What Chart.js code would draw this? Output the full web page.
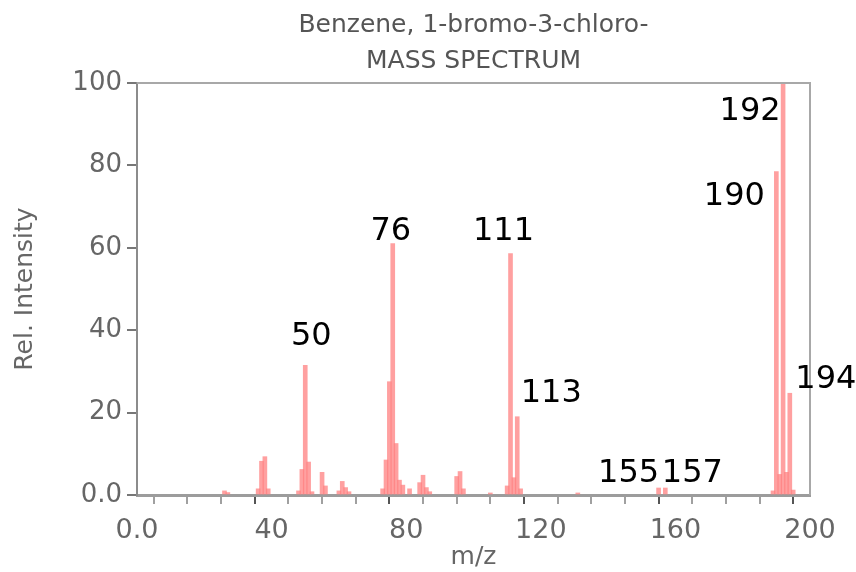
<!DOCTYPE html>
<html>
<head>
<meta charset="utf-8">
<title>Benzene, 1-bromo-3-chloro- mass spectrum</title>
<script src="https://cdn.jsdelivr.net/npm/chart.js@4.4.1/dist/chart.umd.min.js"></script>
<style>
  html, body { margin: 0; padding: 0; background: #fff; }
  #wrap { width: 856px; height: 572px; }
</style>
</head>
<body>
<div id="wrap"><canvas id="spectrum"></canvas></div>
<script>
// m/z values and relative intensities of the EI spectrum
const mz = [26, 27, 36, 37, 38, 39, 48, 49, 50, 51, 52, 55, 56, 60, 61, 62, 63,
    73, 74, 75, 76, 77, 78, 79, 81, 84, 85, 86, 87, 95, 96, 97, 105,
    110, 111, 112, 113, 114, 131, 155, 157, 189, 190, 191, 192, 193, 194, 195];
const intensity = [1.0, 0.6, 1.5, 8.2, 9.3, 1.5, 1.0, 6.2, 31.5, 8.0, 0.8, 5.5, 2.2, 1.0, 3.3, 1.8, 0.8,
    1.5, 8.5, 27.5, 61.0, 12.5, 3.6, 2.4, 1.5, 3.0, 4.8, 1.8, 0.8, 4.5, 5.7, 1.5, 0.5,
    2.2, 58.6, 4.2, 19.0, 1.5, 0.5, 1.7, 1.7, 1.0, 78.5, 5.0, 100.0, 5.5, 24.7, 1.2];

// peaks that get a number printed next to them
const labelledPeaks = [50, 76, 111, 113, 155, 157, 190, 192, 194];

// axis ticks
const xTicks = [0, 40, 80, 120, 160, 200];
const yTicks = [0, 20, 40, 60, 80, 100];

// where each peak label sits relative to the top of its bar (px)
const labelOffset = {
    50: [6, -20], 76: [-2, -4], 111: [-7, -14], 113: [34, -15],
    155: [-30, -6], 157: [27, -6], 190: [-42, 33], 192: [-33, 37], 194: [36, -5]
};

const points = mz.map((m, i) => ({ x: m, y: intensity[i] }));

const fmt = v => (v === 0 ? '0.0' : String(v));

// frame, title lines and peak labels
const decor = {
    id: 'decor',
    afterDraw(chart) {
        const { ctx, chartArea: a, scales } = chart;
        ctx.save();

        ctx.strokeStyle = '#a8a8a8';
        ctx.lineWidth = 2;
        ctx.beginPath();
        ctx.moveTo(a.left, a.top);
        ctx.lineTo(a.right, a.top);
        ctx.lineTo(a.right, a.bottom);
        ctx.stroke();

        ctx.fillStyle = '#555';
        ctx.textAlign = 'center';
        ctx.textBaseline = 'middle';
        ctx.font = '25px "DejaVu Sans"';
        const cx = (a.left + a.right) / 2;
        ctx.fillText('Benzene, 1-bromo-3-chloro-', cx, 25);
        ctx.fillText('MASS SPECTRUM', cx, 61);

        ctx.fillStyle = '#000';
        ctx.font = '32px "DejaVu Sans"';
        ctx.textBaseline = 'alphabetic';
        labelledPeaks.forEach(m => {
            const y = intensity[mz.indexOf(m)];
            const [dx, dy] = labelOffset[m];
            ctx.fillText(String(m), scales.x.getPixelForValue(m) + dx, scales.y.getPixelForValue(y) + dy);
        });
        ctx.restore();
    }
};

new Chart(document.getElementById('spectrum'), {
    type: 'bar',
    data: {
        datasets: [{
            data: points,
            backgroundColor: 'rgba(255, 128, 128, 0.75)',
            barThickness: 4,
            borderWidth: 0
        }]
    },
    options: {
        responsive: true,
        maintainAspectRatio: false,
        animation: false,
        layout: { padding: { top: 83, right: 46, left: 0, bottom: 0 } },
        plugins: {
            legend: { display: false },
            tooltip: { enabled: false }
        },
        scales: {
            x: {
                type: 'linear',
                min: 0,
                max: 200,
                offset: false,
                afterFit: s => { s.height = 77; },
                afterBuildTicks: s => {
                    // minor ticks every 10, labels only on the major ones
                    s.ticks = [];
                    for (let v = 0; v <= 200; v += 10) s.ticks.push({ value: v });
                },
                border: { color: '#9c9c9c', width: 3 },
                grid: {
                    drawOnChartArea: false,
                    tickLength: 9,
                    lineWidth: 2,
                    color: c => (c.tick && xTicks.includes(c.tick.value) ? '#555' : '#a0a0a0')
                },
                ticks: {
                    autoSkip: false,
                    maxRotation: 0,
                    padding: 11,
                    color: '#666',
                    font: { family: '"DejaVu Sans"', size: 27 },
                    callback: v => (xTicks.includes(v) ? fmt(v) : '')
                },
                title: {
                    display: true,
                    text: 'm/z',
                    color: '#666',
                    font: { family: '"DejaVu Sans"', size: 25 },
                    padding: { top: 0, bottom: 0 }
                }
            },
            y: {
                min: 0,
                max: 100,
                afterFit: s => { s.width = 137; },
                afterBuildTicks: s => { s.ticks = yTicks.map(v => ({ value: v })); },
                border: { color: '#8c8c8c', width: 2 },
                grid: {
                    drawOnChartArea: false,
                    tickLength: 10,
                    lineWidth: 2,
                    color: '#777'
                },
                ticks: {
                    padding: 5,
                    color: '#666',
                    font: { family: '"DejaVu Sans"', size: 26 },
                    callback: v => fmt(v)
                },
                title: {
                    display: true,
                    text: 'Rel. Intensity',
                    color: '#666',
                    font: { family: '"DejaVu Sans"', size: 25 },
                    padding: { top: 10, bottom: 0 }
                }
            }
        }
    },
    plugins: [decor]
});
</script>
</body>
</html>
